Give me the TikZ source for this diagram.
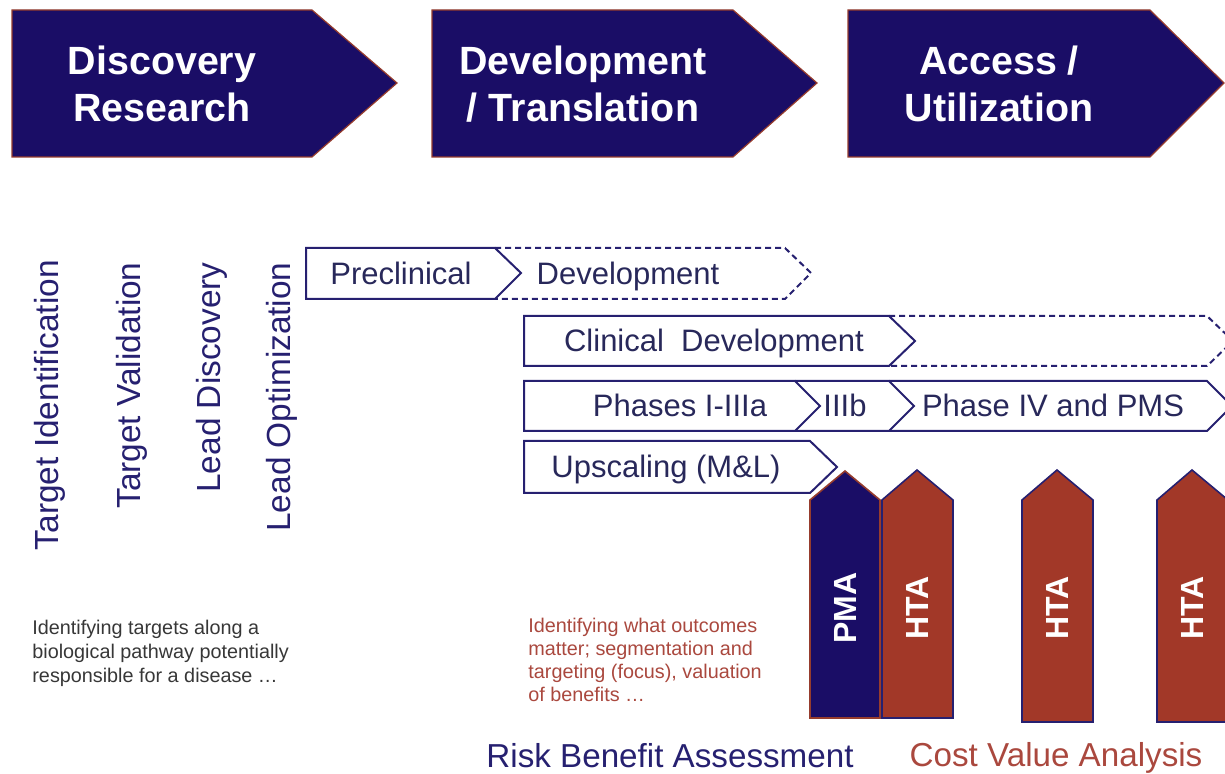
\documentclass[tikz,border=0pt]{standalone}
\usepackage{fontspec}
\setmainfont{Liberation Sans}
\definecolor{navy}{RGB}{26,13,102}
\definecolor{rust}{RGB}{162,56,40}
\definecolor{edgered}{RGB}{150,60,45}
\definecolor{boxline}{RGB}{38,32,112}
\definecolor{boxtext}{RGB}{40,40,90}
\definecolor{notegrey}{RGB}{55,55,55}
\definecolor{notered}{RGB}{170,72,62}
\tikzset{
  stage/.style={fill=navy, draw=edgered, line width=0.6pt},
  stagetext/.style={text=white, font=\fontsize{19.7}{23.5}\selectfont\bfseries, align=center},
  phase/.style={draw=boxline, line width=1pt, line join=miter},
  phasedash/.style={phase, dash pattern=on 3pt off 2pt},
  phasetext/.style={text=boxtext, font=\fontsize{15.5}{18}\selectfont, anchor=base},
  steptext/.style={text=boxline, font=\fontsize{16.7}{20}\selectfont, rotate=90, anchor=base east, inner sep=0pt},
  gate/.style={draw=boxline, line width=0.8pt},
  gatetext/.style={text=white, font=\fontsize{16}{19}\selectfont\bfseries, rotate=90},
  note/.style={font=\fontsize{9.9}{12}\selectfont, align=left, anchor=north west, inner sep=0pt},
  footer/.style={font=\fontsize{16.6}{20}\selectfont, anchor=base},
}
\begin{document}
\begin{tikzpicture}[x=0.5pt, y=-0.5pt]
    \useasboundingbox (0,0) rectangle (1225,774);
    % stages along the top
    \draw[stage] (12,10) -- (312,10) -- (397,83) -- (312,157) -- (12,157) -- cycle;
    \draw[stage] (432,10) -- (733,10) -- (817,83) -- (733,157) -- (432,157) -- cycle;
    \draw[stage] (848,10) -- (1150,10) -- (1224,83) -- (1150,157) -- (848,157) -- cycle;
    \node[stagetext] (discovery) at (162,84) {Discovery\\Research};
    \node[stagetext] (translation) at (583,84) {Development\\/ Translation};
    \node[stagetext] (access) at (999,84) {Access /\\Utilization};
    % discovery steps
    \node[steptext] (targetid) at (58,260) {Target Identification};
    \node[steptext] (targetval) at (140,262) {Target Validation};
    \node[steptext] (leaddisc) at (220,262) {Lead Discovery};
    \node[steptext] (leadopt) at (290,262) {Lead Optimization};
    % development rows
    \draw[phase] (306,248) -- (495,248) -- (521,273) -- (495,299) -- (306,299) -- cycle;
    \draw[phasedash] (495,248) -- (785,248) -- (811,273) -- (785,299) -- (495,299);
    \node[phasetext] (preclin) at (401,285) {Preclinical};
    \node[phasetext] (predev) at (628,285) {Development};
    \draw[phase] (524,316) -- (889,316) -- (915,341) -- (889,366) -- (524,366) -- cycle;
    \draw[phasedash] (889,316) -- (1207,316) -- (1233,341) -- (1207,366) -- (889,366);
    \node[phasetext] (clindev) at (714,352) {Clinical~~Development};
    \draw[phase] (524,381) -- (795,381) -- (820,406) -- (795,431) -- (524,431) -- cycle;
    \draw[phase] (795,381) -- (889,381) -- (914,406) -- (889,431) -- (795,431);
    \draw[phase] (889,381) -- (1207,381) -- (1232,406) -- (1207,431) -- (889,431);
    \node[phasetext] (phases) at (680,417) {Phases I-IIIa};
    \node[phasetext] (threeb) at (845,417) {IIIb};
    \node[phasetext] (phasefour) at (1053,417) {Phase IV and PMS};
    \draw[phase] (524,441) -- (810,441) -- (837,467) -- (810,493) -- (524,493) -- cycle;
    \node[phasetext] (upscale) at (666,478) {Upscaling (M\&L)};
    % assessment gates
    \draw[gate, fill=navy, draw=edgered] (810,718) -- (810,500) -- (845,471) -- (880,500) -- (880,718) -- cycle;
    \draw[gate, fill=rust] (882,718) -- (882,500) -- (917,470) -- (953,500) -- (953,718) -- cycle;
    \draw[gate, fill=rust] (1022,722) -- (1022,500) -- (1057,470) -- (1093,500) -- (1093,722) -- cycle;
    \draw[gate, fill=rust] (1157,722) -- (1157,500) -- (1192,470) -- (1228,500) -- (1228,722) -- cycle;
    \node[gatetext] (pma) at (845,608) {PMA};
    \node[gatetext] (hta1) at (917,608) {HTA};
    \node[gatetext] (hta2) at (1057,608) {HTA};
    \node[gatetext] (hta3) at (1192,608) {HTA};
    % notes and footers
    \node[note, text=notegrey] (leftnote) at (32,620) {Identifying targets along a\\biological pathway potentially\\responsible for a disease \dots};
    \node[note, text=notered, font=\fontsize{9.9}{11.5}\selectfont] (rightnote) at (528,618) {Identifying what outcomes\\matter; segmentation and\\targeting (focus), valuation\\of benefits \dots};
    \node[footer, text=boxline] (risk) at (670,767) {Risk Benefit Assessment};
    \node[footer, text=notered] (cost) at (1056,766) {Cost Value Analysis};
\end{tikzpicture}
\end{document}
